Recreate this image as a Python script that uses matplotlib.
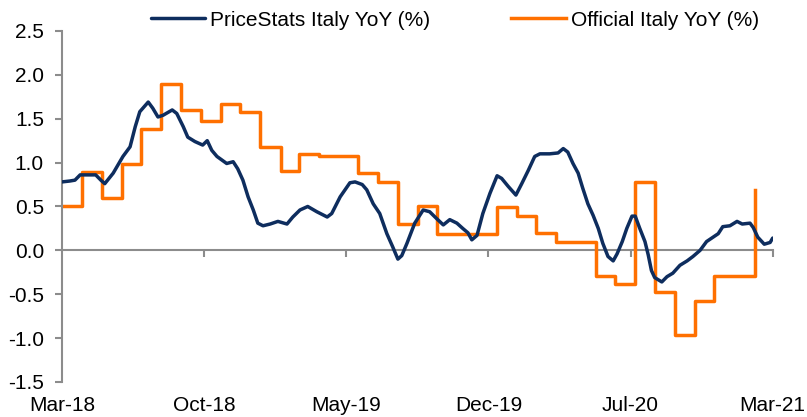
import numpy as np
import pandas as pd
import matplotlib
matplotlib.use("Agg")
import matplotlib.pyplot as plt

plt.rcParams['font.family'] = ['Liberation Sans', 'DejaVu Sans']
plt.rcParams['axes.unicode_minus'] = False

# PriceStats Italy YoY (%) - daily-ish series
ps_dates = [
    "2018-03-01", "2018-03-13", "2018-03-21", "2018-03-29", "2018-04-22", "2018-04-30",
    "2018-05-06", "2018-05-19", "2018-06-03", "2018-06-14", "2018-06-22", "2018-06-29",
    "2018-07-12", "2018-07-19", "2018-07-27", "2018-08-04", "2018-08-18", "2018-08-25",
    "2018-09-04", "2018-09-11", "2018-09-22", "2018-10-04", "2018-10-11", "2018-10-18",
    "2018-10-26", "2018-11-10", "2018-11-20", "2018-11-27", "2018-12-05", "2018-12-13",
    "2018-12-21", "2018-12-28", "2019-01-05", "2019-01-16", "2019-01-28", "2019-02-11",
    "2019-02-20", "2019-03-03", "2019-03-15", "2019-03-29", "2019-04-14", "2019-04-21",
    "2019-05-04", "2019-05-19", "2019-05-27", "2019-06-07", "2019-06-14", "2019-06-24",
    "2019-07-04", "2019-07-15", "2019-07-24", "2019-08-01", "2019-08-07", "2019-08-15",
    "2019-08-27", "2019-09-09", "2019-09-19", "2019-09-30", "2019-10-10", "2019-10-20",
    "2019-10-31", "2019-11-09", "2019-11-17", "2019-11-23", "2019-12-01", "2019-12-10",
    "2019-12-21", "2020-01-01", "2020-01-08", "2020-01-18", "2020-01-30", "2020-02-08",
    "2020-02-18", "2020-02-28", "2020-03-07", "2020-03-22", "2020-04-04", "2020-04-12",
    "2020-04-19", "2020-04-27", "2020-05-05", "2020-05-12", "2020-05-20", "2020-05-28",
    "2020-06-05", "2020-06-12", "2020-06-20", "2020-06-28", "2020-07-04", "2020-07-12",
    "2020-07-19", "2020-07-27", "2020-08-01", "2020-08-08", "2020-08-16", "2020-08-21",
    "2020-08-26", "2020-08-31", "2020-09-11", "2020-09-19", "2020-09-28", "2020-10-09",
    "2020-10-20", "2020-10-29", "2020-11-09", "2020-11-19", "2020-11-29", "2020-12-07",
    "2020-12-14", "2020-12-25", "2021-01-05", "2021-01-13", "2021-01-25", "2021-01-30",
    "2021-02-06", "2021-02-16", "2021-02-25", "2021-03-01",
]
ps_values = [
    0.78, 0.79, 0.80, 0.86, 0.86, 0.80,
    0.76, 0.88, 1.07, 1.18, 1.41, 1.58,
    1.69, 1.62, 1.52, 1.54, 1.60, 1.56,
    1.41, 1.29, 1.24, 1.20, 1.25, 1.14,
    1.07, 0.99, 1.01, 0.93, 0.80, 0.61,
    0.46, 0.31, 0.28, 0.30, 0.33, 0.30,
    0.38, 0.46, 0.50, 0.44, 0.38, 0.42,
    0.61, 0.77, 0.78, 0.75, 0.69, 0.53,
    0.42, 0.19, 0.04, -0.10, -0.06, 0.08,
    0.31, 0.46, 0.44, 0.36, 0.29, 0.35,
    0.31, 0.25, 0.20, 0.12, 0.17, 0.42,
    0.65, 0.85, 0.82, 0.73, 0.63, 0.76,
    0.91, 1.07, 1.10, 1.10, 1.11, 1.16,
    1.12, 0.99, 0.88, 0.71, 0.53, 0.40,
    0.25, 0.08, -0.07, -0.12, -0.04, 0.10,
    0.25, 0.39, 0.39, 0.25, 0.10, -0.05,
    -0.23, -0.31, -0.36, -0.30, -0.26, -0.17,
    -0.12, -0.07, 0.00, 0.10, 0.15, 0.19,
    0.27, 0.28, 0.33, 0.30, 0.31, 0.26,
    0.15, 0.07, 0.09, 0.14,
]

# Official Italy YoY (%) - monthly values
off_months = pd.date_range("2018-03-01", "2021-02-01", freq="MS")
off_values = [
    0.50, 0.89, 0.60, 0.98, 1.38, 1.90, 1.60, 1.47, 1.67, 1.58, 1.18, 0.90,
    1.10, 1.08, 1.07, 0.88, 0.78, 0.30, 0.50, 0.19, 0.19, 0.19, 0.49, 0.39,
    0.20, 0.10, 0.10, -0.29, -0.38, 0.78, -0.48, -0.97, -0.58, -0.29, -0.29, 0.69,
]

tick_labels = ["Mar-18", "Oct-18", "May-19", "Dec-19", "Jul-20", "Mar-21"]

navy = "#0E2D5E"
orange = "#FF7000"
gray = "#8C8C8C"
fs = 15

x_start = pd.Timestamp("2018-03-01")
x_end = pd.Timestamp("2021-03-01")

fig = plt.figure(figsize=(8.07, 4.17), dpi=100)
ax = fig.add_axes([0.0768, 0.084, 0.8807, 0.8417])

ax.plot(pd.to_datetime(ps_dates), ps_values, color=navy, lw=2.5,
        label="PriceStats Italy YoY (%)", solid_capstyle="round", zorder=3)
ax.plot(off_months, off_values, color=orange, lw=2.5, drawstyle="steps-post",
        label="Official Italy YoY (%)", zorder=2)

ax.set_ylim(-1.5, 2.5)
ax.set_xlim(x_start, x_end)
ax.set_yticks(np.arange(-1.5, 2.51, 0.5))
ax.set_yticklabels([f"{v:.1f}" for v in np.arange(-1.5, 2.51, 0.5)])

# ticks at equal fifths of the span
tick_pos = [x_start + (x_end - x_start) * i / 5 for i in range(6)]
ax.set_xticks(tick_pos)
ax.set_xticklabels(tick_labels)
ax.tick_params(axis="x", length=0, pad=10, labelsize=fs)
ax.tick_params(axis="y", length=5, width=1.5, color=gray, pad=8, labelsize=fs)

for s in ["top", "right", "bottom"]:
    ax.spines[s].set_visible(False)
ax.spines["left"].set_color(gray)
ax.spines["left"].set_linewidth(1.5)

# zero axis line with hanging ticks
zero_frac = (0 - (-1.5)) / 4.0
sec = ax.secondary_xaxis(zero_frac)
sec.set_xticks(tick_pos[1:])
sec.tick_params(axis="x", length=5, width=1.5, color=gray, labelbottom=False,
                labeltop=False, direction="out")
sec.xaxis.set_ticks_position("bottom")
sec.spines["bottom"].set_color(gray)
sec.spines["bottom"].set_linewidth(1.5)
sec.spines["top"].set_visible(False)
sec.set_xticklabels([])

fig.legend(loc="center", bbox_to_anchor=(0.5635, 0.952), ncol=2, frameon=False,
           fontsize=fs, handlelength=2.6, handletextpad=0.25, columnspacing=3.9)

fig.savefig("out.png", dpi=100)
